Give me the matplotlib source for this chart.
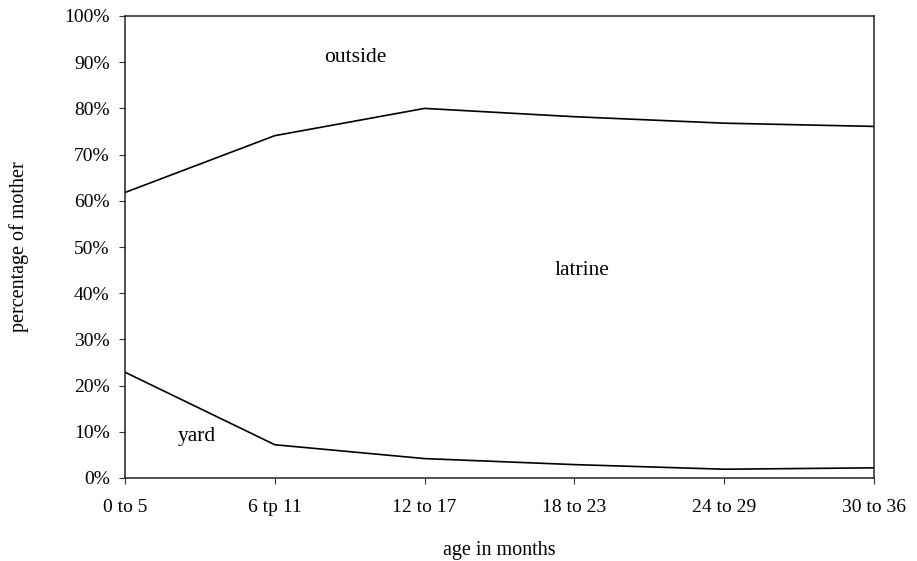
import matplotlib.pyplot as plt
import numpy as np
from matplotlib.ticker import PercentFormatter

plt.rcParams['font.family'] = ['Liberation Serif', 'DejaVu Serif']

age_groups = ['0 to 5', '6 tp 11', '12 to 17', '18 to 23', '24 to 29', '30 to 36']
# cumulative shares (%)
yard = [22.9, 7.2, 4.2, 2.9, 1.9, 2.2]
yard_plus_latrine = [61.8, 74.1, 80.0, 78.2, 76.8, 76.1]

x = np.arange(len(age_groups))

fig = plt.figure(figsize=(9.17, 5.61), dpi=100)
ax = fig.add_axes([125 / 917, 1 - 478 / 561, (874 - 125) / 917, (478 - 16) / 561])

ax.plot(x, yard, color='black', lw=1.2)
ax.plot(x, yard_plus_latrine, color='black', lw=1.2)

ax.set_xlim(0, len(age_groups) - 1)
ax.set_ylim(0, 100)
ax.set_xticks(x)
ax.set_xticklabels(age_groups)
ax.set_yticks(np.arange(0, 101, 10))
ax.yaxis.set_major_formatter(PercentFormatter(decimals=0))
ax.tick_params(labelsize=14, length=4, width=0.8, color='#333333')
ax.tick_params(axis='x', pad=11)
ax.tick_params(axis='y', pad=7)

for s in ax.spines.values():
    s.set_linewidth(1.1)
    s.set_color('#222222')

ax.set_xlabel('age in months', fontsize=14.5)
ax.set_ylabel('percentage of mother', fontsize=14.5)
ax.xaxis.set_label_coords(0.5, -0.157)
ax.yaxis.set_label_coords(-0.142, 0.5)
ax.xaxis.label.set_va('center')
ax.yaxis.label.set_va('center')

ax.text(1.54, 91.0, 'outside', fontsize=15.5, ha='center', va='center')
ax.text(3.05, 45.0, 'latrine', fontsize=15.5, ha='center', va='center')
ax.text(0.48, 8.9, 'yard', fontsize=15.5, ha='center', va='center')

plt.savefig('out.png', dpi=100)
